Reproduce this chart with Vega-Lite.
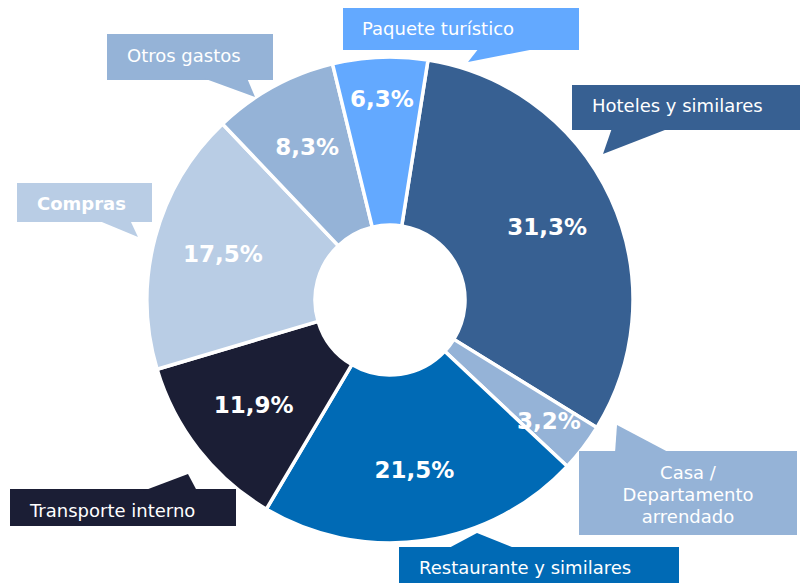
{
  "$schema": "https://vega.github.io/schema/vega-lite/v6.json",
  "width": 800,
  "height": 583,
  "autosize": {"type": "none"},
  "padding": 0,
  "background": "white",
  "config": {"view": {"stroke": null}, "font": "DejaVu Sans"},
  "data": {
    "values": [
      {"category": "Hoteles y similares", "pct": 31.3},
      {"category": "Casa / Departamento arrendado", "pct": 3.2},
      {"category": "Restaurante y similares", "pct": 21.5},
      {"category": "Transporte interno", "pct": 11.9},
      {"category": "Compras", "pct": 17.5},
      {"category": "Otros gastos", "pct": 8.3},
      {"category": "Paquete turístico", "pct": 6.3}
    ]
  },
  "transform": [
    {"window": [{"op": "row_number", "as": "idx"}]},
    {"calculate": "replace(toString(datum.pct), '.', ',') + '%'", "as": "label"}
  ],
  "layer": [
    {
      "mark": {"type": "arc", "outerRadius": 243, "innerRadius": 75, "stroke": "white", "strokeWidth": 3.5},
      "encoding": {
        "x": {"datum": 0, "type": "quantitative", "axis": null, "scale": {"domain": [-3.9, 4.1], "nice": false, "zero": false}},
        "y": {"datum": 0, "type": "quantitative", "axis": null, "scale": {"domain": [-2.83, 3.0], "nice": false, "zero": false}},
        "theta": {"field": "pct", "type": "quantitative", "stack": true, "scale": {"range": [0.157, 6.4402]}},
        "order": {"field": "idx", "type": "quantitative"},
        "color": {
          "field": "category", "type": "nominal", "legend": null,
          "scale": {
            "domain": ["Hoteles y similares", "Casa / Departamento arrendado", "Restaurante y similares", "Transporte interno", "Compras", "Otros gastos", "Paquete turístico"],
            "range": ["#376092", "#95B3D7", "#006AB5", "#1B1E35", "#B9CDE5", "#95B3D7", "#63A9FF"]
          }
        }
      }
    },
    {
      "mark": {"type": "text", "fontSize": 23, "fontWeight": "bold", "color": "white", "align": "center", "baseline": "middle"},
      "encoding": {
        "x": {"datum": 0, "type": "quantitative", "axis": null},
        "y": {"datum": 0, "type": "quantitative", "axis": null},
        "theta": {"field": "pct", "type": "quantitative", "stack": true},
        "radius": {"field": "pct", "type": "quantitative", "scale": {"domain": [6.5, 8], "range": [200, 173], "clamp": true, "zero": false}},
        "order": {"field": "idx", "type": "quantitative"},
        "text": {"field": "label", "type": "nominal"}
      }
    },
    {
      "transform": [{"filter": "datum.category == 'Paquete turístico'"}],
      "layer": [
        {"mark": {"type": "rect"}, "encoding": {"x": {"datum": -0.47, "type": "quantitative", "axis": null}, "x2": {"datum": 1.89}, "y": {"datum": 2.92, "type": "quantitative", "axis": null}, "y2": {"datum": 2.50}, "color": {"field": "category", "type": "nominal", "legend": null}}},
        {"mark": {"type": "point", "filled": true, "opacity": 1, "size": 4, "shape": "M0,0L11,-14L72,-14Z"}, "encoding": {"x": {"datum": 0.78, "type": "quantitative", "axis": null}, "y": {"datum": 2.38, "type": "quantitative", "axis": null}, "color": {"field": "category", "type": "nominal", "legend": null}}},
        {"mark": {"type": "text", "align": "left", "baseline": "middle", "fontSize": 18, "color": "white"}, "encoding": {"x": {"datum": -0.28, "type": "quantitative", "axis": null}, "y": {"datum": 2.70, "type": "quantitative", "axis": null}, "text": {"field": "category", "type": "nominal"}}}
      ]
    },
    {
      "transform": [{"filter": "datum.category == 'Hoteles y similares'"}],
      "layer": [
        {"mark": {"type": "rect"}, "encoding": {"x": {"datum": 1.82, "type": "quantitative", "axis": null}, "x2": {"datum": 4.2}, "y": {"datum": 2.15, "type": "quantitative", "axis": null}, "y2": {"datum": 1.70}, "color": {"field": "category", "type": "nominal", "legend": null}}},
        {"mark": {"type": "point", "filled": true, "opacity": 1, "size": 4, "shape": "M0,0L9,-26L67,-26Z"}, "encoding": {"x": {"datum": 2.13, "type": "quantitative", "axis": null}, "y": {"datum": 1.46, "type": "quantitative", "axis": null}, "color": {"field": "category", "type": "nominal", "legend": null}}},
        {"mark": {"type": "text", "align": "left", "baseline": "middle", "fontSize": 18, "color": "white"}, "encoding": {"x": {"datum": 2.02, "type": "quantitative", "axis": null}, "y": {"datum": 1.93, "type": "quantitative", "axis": null}, "text": {"field": "category", "type": "nominal"}}}
      ]
    },
    {
      "transform": [
        {"filter": "datum.category == 'Casa / Departamento arrendado'"},
        {"calculate": "[split(datum.category, ' ')[0] + ' /', split(datum.category, ' ')[2], split(datum.category, ' ')[3]]", "as": "lines"}
      ],
      "layer": [
        {"mark": {"type": "rect"}, "encoding": {"x": {"datum": 1.89, "type": "quantitative", "axis": null}, "x2": {"datum": 4.07}, "y": {"datum": -1.51, "type": "quantitative", "axis": null}, "y2": {"datum": -2.35}, "color": {"field": "category", "type": "nominal", "legend": null}}},
        {"mark": {"type": "point", "filled": true, "opacity": 1, "size": 4, "shape": "M0,0L-2,28L53,28Z"}, "encoding": {"x": {"datum": 2.27, "type": "quantitative", "axis": null}, "y": {"datum": -1.25, "type": "quantitative", "axis": null}, "color": {"field": "category", "type": "nominal", "legend": null}}},
        {"mark": {"type": "text", "align": "center", "baseline": "middle", "fontSize": 18, "lineHeight": 22, "color": "white"}, "encoding": {"x": {"datum": 2.98, "type": "quantitative", "axis": null}, "y": {"datum": -1.74, "type": "quantitative", "axis": null}, "text": {"field": "lines", "type": "nominal"}}}
      ]
    },
    {
      "transform": [{"filter": "datum.category == 'Restaurante y similares'"}],
      "layer": [
        {"mark": {"type": "rect"}, "encoding": {"x": {"datum": 0.09, "type": "quantitative", "axis": null}, "x2": {"datum": 2.89}, "y": {"datum": -2.47, "type": "quantitative", "axis": null}, "y2": {"datum": -2.95}, "color": {"field": "category", "type": "nominal", "legend": null}}},
        {"mark": {"type": "point", "filled": true, "opacity": 1, "size": 4, "shape": "M0,0L-30,16L40,16Z"}, "encoding": {"x": {"datum": 0.87, "type": "quantitative", "axis": null}, "y": {"datum": -2.33, "type": "quantitative", "axis": null}, "color": {"field": "category", "type": "nominal", "legend": null}}},
        {"mark": {"type": "text", "align": "left", "baseline": "middle", "fontSize": 18, "color": "white"}, "encoding": {"x": {"datum": 0.29, "type": "quantitative", "axis": null}, "y": {"datum": -2.69, "type": "quantitative", "axis": null}, "text": {"field": "category", "type": "nominal"}}}
      ]
    },
    {
      "transform": [{"filter": "datum.category == 'Transporte interno'"}],
      "layer": [
        {"mark": {"type": "rect"}, "encoding": {"x": {"datum": -3.80, "type": "quantitative", "axis": null}, "x2": {"datum": -1.54}, "y": {"datum": -1.89, "type": "quantitative", "axis": null}, "y2": {"datum": -2.26}, "color": {"field": "category", "type": "nominal", "legend": null}}},
        {"mark": {"type": "point", "filled": true, "opacity": 1, "size": 4, "shape": "M0,0L-45,17L9,17Z"}, "encoding": {"x": {"datum": -2.02, "type": "quantitative", "axis": null}, "y": {"datum": -1.74, "type": "quantitative", "axis": null}, "color": {"field": "category", "type": "nominal", "legend": null}}},
        {"mark": {"type": "text", "align": "left", "baseline": "middle", "fontSize": 18, "color": "white"}, "encoding": {"x": {"datum": -3.60, "type": "quantitative", "axis": null}, "y": {"datum": -2.12, "type": "quantitative", "axis": null}, "text": {"field": "category", "type": "nominal"}}}
      ]
    },
    {
      "transform": [{"filter": "datum.category == 'Otros gastos'"}],
      "layer": [
        {"mark": {"type": "rect"}, "encoding": {"x": {"datum": -2.83, "type": "quantitative", "axis": null}, "x2": {"datum": -1.17}, "y": {"datum": 2.66, "type": "quantitative", "axis": null}, "y2": {"datum": 2.20}, "color": {"field": "category", "type": "nominal", "legend": null}}},
        {"mark": {"type": "point", "filled": true, "opacity": 1, "size": 4, "shape": "M0,0L-52,-19L-8,-19Z"}, "encoding": {"x": {"datum": -1.35, "type": "quantitative", "axis": null}, "y": {"datum": 2.03, "type": "quantitative", "axis": null}, "color": {"field": "category", "type": "nominal", "legend": null}}},
        {"mark": {"type": "text", "align": "left", "baseline": "middle", "fontSize": 18, "color": "white"}, "encoding": {"x": {"datum": -2.63, "type": "quantitative", "axis": null}, "y": {"datum": 2.43, "type": "quantitative", "axis": null}, "text": {"field": "category", "type": "nominal"}}}
      ]
    },
    {
      "transform": [{"filter": "datum.category == 'Compras'"}],
      "layer": [
        {"mark": {"type": "rect"}, "encoding": {"x": {"datum": -3.73, "type": "quantitative", "axis": null}, "x2": {"datum": -2.38}, "y": {"datum": 1.17, "type": "quantitative", "axis": null}, "y2": {"datum": 0.78}, "color": {"field": "category", "type": "nominal", "legend": null}}},
        {"mark": {"type": "point", "filled": true, "opacity": 1, "size": 4, "shape": "M0,0L-41,-17L-8,-17Z"}, "encoding": {"x": {"datum": -2.52, "type": "quantitative", "axis": null}, "y": {"datum": 0.63, "type": "quantitative", "axis": null}, "color": {"field": "category", "type": "nominal", "legend": null}}},
        {"mark": {"type": "text", "align": "left", "baseline": "middle", "fontSize": 18, "fontWeight": "bold", "color": "white"}, "encoding": {"x": {"datum": -3.53, "type": "quantitative", "axis": null}, "y": {"datum": 0.95, "type": "quantitative", "axis": null}, "text": {"field": "category", "type": "nominal"}}}
      ]
    }
  ]
}
